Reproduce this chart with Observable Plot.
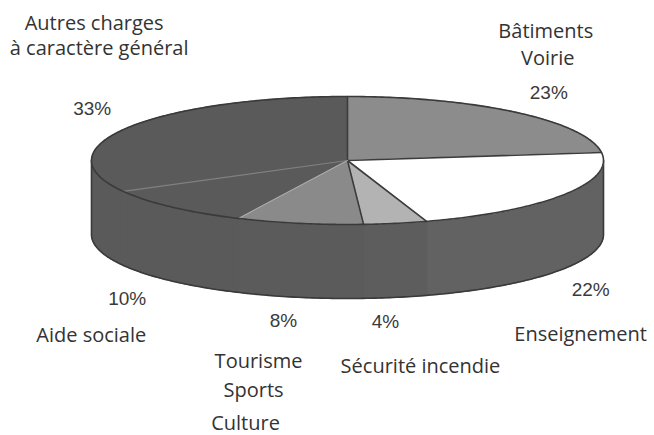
<!DOCTYPE html>
<html><head><meta charset="utf-8">
<script src="https://cdn.jsdelivr.net/npm/d3@7"></script>
<script src="https://cdn.jsdelivr.net/npm/@observablehq/plot@0.6"></script>
<style>html,body{margin:0;padding:0;background:#fff;} svg{display:block}</style>
</head><body><div id="chart"></div>
<script>
// ---- data ----
const categories = ["Bâtiments Voirie", "Enseignement", "Sécurité incendie", "Tourisme Sports Culture", "Aide sociale", "Autres charges à caractère général"];
const shares = [23, 22, 4, 8, 10, 33];
const labelLines = [["Bâtiments", "Voirie"], ["Enseignement"], ["Sécurité incendie"], ["Tourisme", "Sports", "Culture"], ["Aide sociale"], ["Autres charges", "à caractère général"]];

// ---- style / layout ----
const topFill  = ["#8c8c8c", "#ffffff", "#b3b3b3", "#8a8a8a", "#5a5a5a", "#5a5a5a"];
const sideFill = ["#626262", "#626262", "#5d5d5d", "#5b5b5b", "#5a5a5a", "#5a5a5a"];
const radialStroke = ["#3c3c3c", "#3c3c3c", "#3c3c3c", "#3c3c3c", "#c4c4c4", "#8a8a8a"];
const W = 654, H = 435, CX = 347, CY = 160, RX = 256, RY = 64, DEPTH = 74 / 64;
// pixel nudges from each slice's mid-angle rim point: [percent, ...label lines]
const nudges = [
  [[32, -13], [29, -74], [31, -47]],
  [[27, 101], [17, 146]],
  [[-10, 105], [25, 150]],
  [[-16, 104], [-41, 145], [-46, 174], [-54, 207]],
  [[-45, 98], [-81, 135]],
  [[-35, -13], [-33, -98], [-28, -73]]
];

const total = d3.sum(shares);
let acc = 0;
const slices = shares.map((v, i) => {
  const a0 = acc / total * 2 * Math.PI; acc += v;
  const a1 = acc / total * 2 * Math.PI;
  return {i, v, a0, a1, am: (a0 + a1) / 2};
});

function arc(a0, a1, drop = 0) {
  const n = Math.max(2, Math.ceil(Math.abs(a1 - a0) / 0.015));
  return d3.range(n + 1).map(k => {
    const t = a0 + (a1 - a0) * k / n;
    return {x: Math.sin(t), y: Math.cos(t) - drop};
  });
}

const marks = [];
// side walls (front half only)
slices.forEach(s => {
  const lo = Math.max(s.a0, Math.PI / 2), hi = Math.min(s.a1, 3 * Math.PI / 2);
  if (lo < hi) {
    const pts = [...arc(lo, hi), ...arc(hi, lo, DEPTH)];
    pts.push(pts[0]);
    marks.push(Plot.line(pts, {x: "x", y: "y", fill: sideFill[s.i], stroke: sideFill[s.i], strokeWidth: 1, curve: "linear"}));
  }
});
// silhouette of side
marks.push(Plot.line([{x: 1, y: 0}, ...arc(Math.PI / 2, 3 * Math.PI / 2, DEPTH), {x: -1, y: 0}],
  {x: "x", y: "y", stroke: "#3a3a3a", strokeWidth: 1.6, curve: "linear"}));
// top face slices
slices.forEach(s => {
  const pts = [{x: 0, y: 0}, ...arc(s.a0, s.a1), {x: 0, y: 0}];
  marks.push(Plot.line(pts, {x: "x", y: "y", fill: topFill[s.i], stroke: topFill[s.i], strokeWidth: 1, curve: "linear"}));
});
// radial boundaries
slices.forEach(s => {
  marks.push(Plot.line([{x: 0, y: 0}, {x: Math.sin(s.a0), y: Math.cos(s.a0)}],
    {x: "x", y: "y", stroke: radialStroke[s.i], strokeWidth: s.i >= 4 ? 1.2 : 1.6, strokeOpacity: s.i >= 4 ? 0.8 : 1}));
});
// top rim
marks.push(Plot.line(arc(0, 2 * Math.PI), {x: "x", y: "y", stroke: "#3a3a3a", strokeWidth: 1.6, curve: "linear"}));

// labels
const pctRows = [], catRows = [];
slices.forEach(s => {
  const ax = CX + RX * Math.sin(s.am), ay = CY - RY * Math.cos(s.am);
  const toData = ([dx, dy]) => ({x: (ax + dx - CX) / RX, y: (CY - (ay + dy)) / RY});
  pctRows.push({...toData(nudges[s.i][0]), text: `${s.v}%`});
  labelLines[s.i].forEach((t, k) => catRows.push({...toData(nudges[s.i][k + 1]), text: t}));
});
marks.push(Plot.text(pctRows, {x: "x", y: "y", text: "text", lineAnchor: "bottom", textAnchor: "middle",
  fontFamily: "Liberation Sans", fontSize: 19, fill: "#3a3a3a"}));
marks.push(Plot.text(catRows, {x: "x", y: "y", text: "text", lineAnchor: "bottom", textAnchor: "middle",
  fontFamily: "Open Sans", fontSize: 20, fill: "#333"}));

const chart = Plot.plot({
  width: W, height: H, margin: 0,
  x: {domain: [-CX / RX, (W - CX) / RX], range: [0, W], axis: null},
  y: {domain: [(CY - H) / RY, CY / RY], range: [H, 0], axis: null},
  style: {background: "#fff"},
  marks
});
document.getElementById("chart").append(chart);
</script>
</body></html>
